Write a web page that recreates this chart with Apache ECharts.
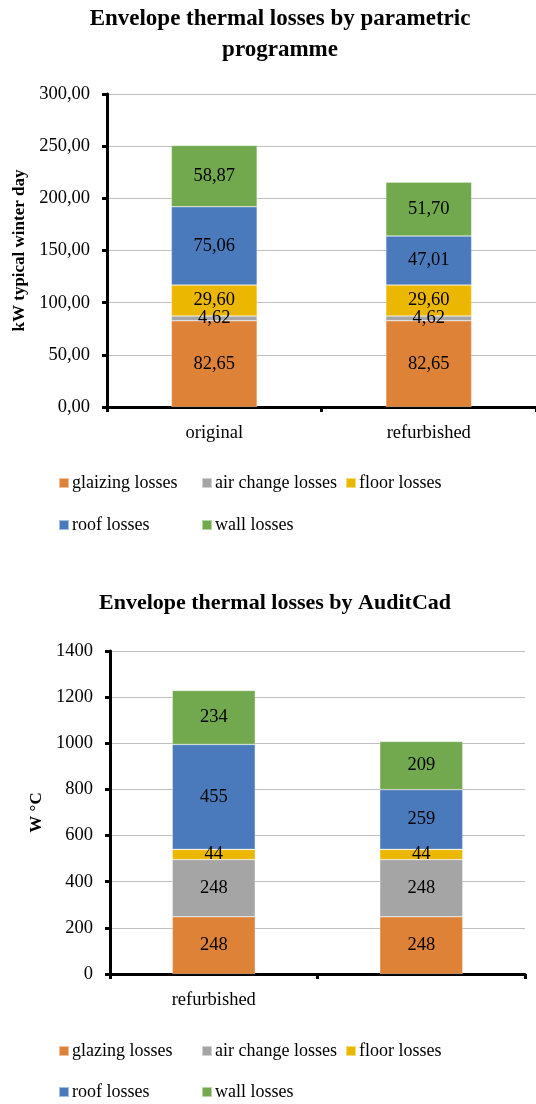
<!DOCTYPE html>
<html>
<head>
<meta charset="utf-8">
<script src="https://cdn.jsdelivr.net/npm/echarts@6/dist/echarts.min.js"></script>
<style>
html,body{margin:0;padding:0;background:#fff;}
#c1,#c2{width:536px;height:552px;}
</style>
</head>
<body>
<div id="c1"></div>
<div id="c2"></div>
<script>
// ---- Chart 1 data ----
const categories1 = ['original', 'refurbished'];
const seriesNames1 = ['glaizing losses', 'air change losses', 'floor losses', 'roof losses', 'wall losses'];
const glaizing1 = [82.65, 82.65];
const airChange1 = [4.62, 4.62];
const floor1 = [29.60, 29.60];
const roof1 = [75.06, 47.01];
const wall1 = [58.87, 51.70];
const yTickLabels1 = ['0,00', '50,00', '100,00', '150,00', '200,00', '250,00', '300,00'];

// ---- Chart 2 data ----
const categories2 = ['refurbished', ''];
const seriesNames2 = ['glazing losses', 'air change losses', 'floor losses', 'roof losses', 'wall losses'];
const glazing2 = [248, 248];
const airChange2 = [248, 248];
const floor2 = [44, 44];
const roof2 = [455, 259];
const wall2 = [234, 209];
const yTickLabels2 = ['0', '200', '400', '600', '800', '1000', '1200', '1400'];

const colors = ['#DE8238', '#A5A5A5', '#EBB700', '#4A7ABC', '#72A84E'];
const FONT = 'Liberation Serif';

function legends(names, row1Top, row2Top) {
  const pos = [[58, row1Top], [201, row1Top], [345, row1Top], [58, row2Top], [201, row2Top]];
  return names.map((n, i) => ({
    data: [n], left: pos[i][0], top: pos[i][1], padding: 0,
    itemWidth: 10, itemHeight: 10, icon: 'rect', selectedMode: false,
    textStyle: {fontFamily: FONT, fontSize: 18, color: '#000', padding: [0, 0, 0, -2]}
  }));
}

function makeSeries(names, arrays, fmt) {
  return names.map((n, i) => ({
    name: n, type: 'bar', stack: 'total', barWidth: '40%',
    data: arrays[i],
    itemStyle: {color: colors[i], borderColor: 'rgba(255,255,255,0.5)', borderWidth: 0.6},
    label: {show: true, position: 'inside', color: '#000', fontFamily: FONT, fontSize: 18.5,
      formatter: p => fmt(p.value)}
  }));
}

function baseOption(cfg) {
  return {
    animation: false,
    title: cfg.title,
    legend: cfg.legend,
    grid: cfg.grid,
    xAxis: {
      type: 'category', data: cfg.categories,
      axisLine: {lineStyle: {color: '#000', width: 3}},
      axisTick: {show: true, length: 5, lineStyle: {color: '#000', width: 3}},
      axisLabel: {color: '#000', fontFamily: FONT, fontSize: 18.5, margin: cfg.xMargin}
    },
    yAxis: {
      type: 'value', min: 0, max: cfg.max, interval: cfg.interval,
      name: cfg.yName, nameLocation: 'middle', nameGap: cfg.nameGap,
      nameTextStyle: {fontFamily: FONT, fontSize: 17, fontWeight: 'bold', color: '#000'},
      axisLine: {show: true, lineStyle: {color: '#000', width: 3}},
      axisTick: {show: true, length: 5, lineStyle: {color: '#000', width: 3}},
      splitLine: {lineStyle: {color: '#BFBFBF', width: 1}},
      axisLabel: {color: '#000', fontFamily: FONT, fontSize: 18.5, margin: cfg.yMargin,
        formatter: v => cfg.ticks[Math.round(v / cfg.interval)]}
    },
    series: cfg.series
  };
}

const fmt1 = v => v.toFixed(2).replace('.', ',');
const fmt2 = v => String(v);

const chart1 = echarts.init(document.getElementById('c1'));
chart1.setOption(baseOption({
  title: {text: 'Envelope thermal losses by parametric\nprogramme', left: 275, top: -1, textAlign: 'center',
    textStyle: {fontFamily: FONT, fontSize: 23, fontWeight: 'bold', color: '#000', lineHeight: 31}},
  legend: legends(seriesNames1, 474, 516),
  grid: {left: 107, top: 94, right: -7, bottom: 145},
  categories: categories1, max: 300, interval: 50, ticks: yTickLabels1,
  yName: 'kW typical winter day', nameGap: 74, xMargin: 17, yMargin: 17,
  series: makeSeries(seriesNames1, [glaizing1, airChange1, floor1, roof1, wall1], fmt1)
}));

const chart2 = echarts.init(document.getElementById('c2'));
chart2.setOption(baseOption({
  title: {text: 'Envelope thermal losses by AuditCad', left: 270, top: 35, textAlign: 'center',
    textStyle: {fontFamily: FONT, fontSize: 22, fontWeight: 'bold', color: '#000'}},
  legend: legends(seriesNames2, 490, 531),
  grid: {left: 110, top: 99, right: 11, bottom: 130},
  categories: categories2, max: 1400, interval: 200, ticks: yTickLabels2,
  yName: 'W °C', nameGap: 63, xMargin: 17, yMargin: 17,
  series: makeSeries(seriesNames2, [glazing2, airChange2, floor2, roof2, wall2], fmt2)
}));
</script>
</body>
</html>
